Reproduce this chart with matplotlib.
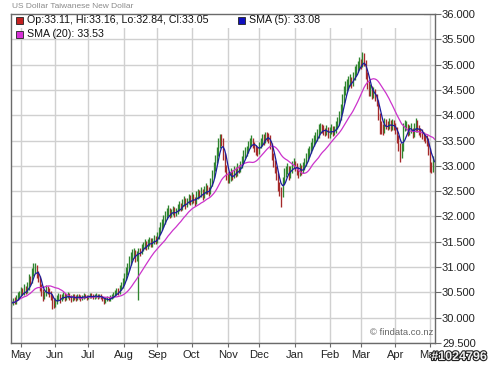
import matplotlib
matplotlib.use("Agg")
import matplotlib.pyplot as plt
import matplotlib.patheffects as pe
from matplotlib.patches import Rectangle
import numpy as np
import pandas as pd

plt.rcParams['font.family'] = ['Liberation Sans', 'DejaVu Sans']

title = "US Dollar Taiwanese New Dollar"
start_date = "2008-04-23"
n_days = 271

opens = [
30.25,30.28,30.33,30.30,30.38,30.42,30.45,30.52,30.48,30.55,
30.50,30.58,30.75,30.70,30.88,30.95,31.02,30.85,30.78,30.60,
30.52,30.40,30.45,30.58,30.52,30.48,30.40,30.30,30.25,30.32,
30.38,30.42,30.36,30.40,30.44,30.38,30.42,30.45,30.40,30.36,
30.42,30.40,30.38,30.43,30.41,30.37,30.40,30.44,30.42,30.39,
30.41,30.45,30.43,30.40,30.42,30.44,30.41,30.43,30.40,30.36,
30.33,30.35,30.38,30.36,30.40,30.42,30.45,30.48,30.52,30.50,
30.58,30.62,30.70,30.78,30.90,30.98,31.10,31.20,31.25,31.30,
31.18,31.25,31.32,31.30,31.38,31.42,31.45,31.40,31.48,31.52,
31.45,31.50,31.55,31.52,31.62,31.70,31.80,31.85,31.90,32.00,
32.05,32.10,32.02,32.08,32.12,32.05,32.10,32.15,32.20,32.18,
32.25,32.30,32.22,32.28,32.35,32.30,32.38,32.32,32.28,32.40,
32.45,32.42,32.48,32.40,32.50,32.55,32.52,32.48,32.65,32.80,
32.95,33.10,33.25,33.40,33.55,33.50,33.20,32.95,32.80,32.72,
32.75,32.85,32.80,32.90,32.85,32.95,32.92,33.00,33.10,33.20,
33.28,33.30,33.40,33.45,33.50,33.42,33.35,33.30,33.28,33.40,
33.45,33.55,33.50,33.60,33.58,33.55,33.40,33.20,33.05,32.95,
32.80,32.60,32.50,32.45,32.70,32.85,32.90,32.95,32.80,32.90,
33.00,33.05,32.98,32.90,32.85,32.95,32.90,32.98,33.05,33.15,
33.25,33.30,33.38,33.45,33.50,33.55,33.60,33.70,33.75,33.72,
33.68,33.65,33.70,33.62,33.68,33.72,33.65,33.70,33.78,33.85,
33.95,34.10,34.30,34.45,34.55,34.60,34.65,34.70,34.62,34.75,
34.85,34.90,34.95,35.05,35.00,35.10,35.05,34.80,34.60,34.45,
34.50,34.40,34.45,34.35,34.25,34.00,33.80,33.75,33.70,33.85,
33.80,33.78,33.85,33.75,33.82,33.78,33.70,33.55,33.40,33.25,
33.35,33.75,33.78,33.78,33.65,33.70,33.75,33.63,33.73,33.83,
33.75,33.67,33.65,33.60,33.57,33.53,33.50,33.30,33.00,32.95,
33.11]

highs = [
30.34,30.38,30.40,30.44,30.50,30.52,30.60,30.58,30.66,30.62,
30.70,30.86,30.82,30.98,31.08,31.08,31.05,30.92,30.82,30.66,
30.56,30.52,30.64,30.62,30.58,30.52,30.44,30.36,30.38,30.44,
30.48,30.46,30.46,30.50,30.48,30.47,30.50,30.49,30.44,30.46,
30.46,30.44,30.47,30.46,30.44,30.45,30.48,30.47,30.45,30.45,
30.49,30.48,30.46,30.46,30.48,30.47,30.47,30.46,30.43,30.40,
30.40,30.42,30.41,30.45,30.47,30.51,30.55,30.59,30.58,30.65,
30.70,30.78,30.88,31.00,31.08,31.22,31.30,31.36,31.38,31.34,
31.32,31.37,31.38,31.45,31.50,31.55,31.52,31.56,31.60,31.58,
31.57,31.63,31.62,31.70,31.80,31.90,31.95,32.02,32.10,32.16,
32.22,32.16,32.15,32.20,32.18,32.16,32.24,32.30,32.26,32.35,
32.40,32.36,32.36,32.45,32.42,32.48,32.44,32.38,32.50,32.55,
32.52,32.58,32.54,32.60,32.66,32.62,32.58,32.75,32.92,33.08,
33.22,33.38,33.55,33.63,33.63,33.55,33.25,33.02,32.88,32.85,
32.95,32.92,33.00,32.98,33.05,33.02,33.10,33.20,33.32,33.38,
33.40,33.50,33.55,33.60,33.56,33.48,33.42,33.38,33.48,33.55,
33.63,33.62,33.66,33.66,33.64,33.60,33.45,33.26,33.12,33.00,
32.85,32.68,32.58,32.78,32.95,33.00,33.06,33.00,33.00,33.10,
33.15,33.10,33.05,32.98,33.05,33.02,33.08,33.15,33.25,33.36,
33.40,33.48,33.55,33.60,33.66,33.72,33.82,33.85,33.82,33.80,
33.75,33.80,33.76,33.76,33.82,33.78,33.78,33.88,33.96,34.08,
34.22,34.42,34.58,34.68,34.72,34.78,34.82,34.76,34.86,34.98,
35.02,35.08,35.15,35.12,35.25,35.22,35.10,34.86,34.68,34.62,
34.58,34.55,34.52,34.42,34.30,34.05,33.88,33.82,33.95,33.92,
33.88,33.95,33.90,33.92,33.90,33.85,33.76,33.60,33.45,33.45,
33.85,33.90,33.88,33.82,33.80,33.85,33.75,33.85,33.95,33.90,
33.80,33.75,33.73,33.67,33.63,33.60,33.55,33.35,33.08,33.20,
33.16]

lows = [
30.22,30.25,30.27,30.28,30.35,30.38,30.42,30.44,30.45,30.46,
30.48,30.55,30.64,30.68,30.82,30.88,30.78,30.70,30.52,30.42,
30.33,30.36,30.42,30.46,30.40,30.34,30.17,30.20,30.22,30.28,
30.34,30.30,30.32,30.36,30.33,30.34,30.38,30.35,30.31,30.33,
30.35,30.33,30.35,30.36,30.32,30.34,30.37,30.38,30.35,30.36,
30.38,30.39,30.36,30.37,30.39,30.37,30.38,30.36,30.32,30.28,
30.30,30.32,30.32,30.33,30.37,30.39,30.42,30.45,30.45,30.47,
30.54,30.58,30.66,30.74,30.85,30.94,31.05,31.14,31.18,31.10,
31.12,30.35,31.22,31.26,31.32,31.36,31.34,31.36,31.42,31.40,
31.40,31.45,31.46,31.48,31.56,31.65,31.74,31.80,31.85,31.94,
32.00,31.96,31.98,32.03,31.98,32.00,32.05,32.10,32.10,32.12,
32.20,32.15,32.18,32.24,32.22,32.25,32.26,32.20,32.24,32.35,
32.36,32.38,32.32,32.36,32.45,32.44,32.40,32.45,32.60,32.75,
32.90,33.05,33.20,33.35,33.40,33.12,32.88,32.72,32.66,32.66,
32.70,32.72,32.75,32.78,32.80,32.85,32.88,32.95,33.05,33.15,
33.20,33.25,33.35,33.40,33.35,33.28,33.22,33.20,33.24,33.35,
33.40,33.42,33.45,33.50,33.46,33.34,33.12,32.98,32.86,32.72,
32.50,32.40,32.19,32.38,32.65,32.78,32.84,32.72,32.75,32.85,
32.95,32.90,32.82,32.76,32.80,32.82,32.85,32.92,33.00,33.10,
33.18,33.25,33.32,33.40,33.45,33.50,33.55,33.65,33.64,33.60,
33.58,33.60,33.55,33.56,33.62,33.58,33.60,33.65,33.72,33.80,
33.90,34.05,34.25,34.40,34.48,34.52,34.58,34.54,34.58,34.70,
34.78,34.85,34.90,34.92,34.95,34.98,34.72,34.52,34.38,34.38,
34.32,34.34,34.28,34.18,33.90,33.62,33.62,33.60,33.65,33.72,
33.70,33.72,33.68,33.70,33.70,33.62,33.45,33.30,33.08,33.15,
33.30,33.68,33.70,33.58,33.60,33.65,33.55,33.57,33.67,33.67,
33.60,33.57,33.53,33.50,33.45,33.40,33.22,32.88,32.86,32.88,
32.84]

closes = [
30.28,30.33,30.30,30.38,30.42,30.45,30.52,30.48,30.55,30.50,
30.58,30.75,30.70,30.88,30.95,31.02,30.85,30.78,30.60,30.52,
30.40,30.45,30.58,30.52,30.48,30.40,30.30,30.25,30.32,30.38,
30.42,30.36,30.40,30.44,30.38,30.42,30.45,30.40,30.36,30.42,
30.40,30.38,30.43,30.41,30.37,30.40,30.44,30.42,30.39,30.41,
30.45,30.43,30.40,30.42,30.44,30.41,30.43,30.40,30.36,30.33,
30.35,30.38,30.36,30.40,30.42,30.45,30.48,30.52,30.50,30.58,
30.62,30.70,30.78,30.90,30.98,31.10,31.20,31.25,31.30,31.18,
31.25,31.32,31.30,31.38,31.42,31.45,31.40,31.48,31.52,31.45,
31.50,31.55,31.52,31.62,31.70,31.80,31.85,31.90,32.00,32.05,
32.10,32.02,32.08,32.12,32.05,32.10,32.15,32.20,32.18,32.25,
32.30,32.22,32.28,32.35,32.30,32.38,32.32,32.28,32.40,32.45,
32.42,32.48,32.40,32.50,32.55,32.52,32.48,32.65,32.80,32.95,
33.10,33.25,33.40,33.55,33.50,33.20,32.95,32.80,32.72,32.75,
32.85,32.80,32.90,32.85,32.95,32.92,33.00,33.10,33.20,33.28,
33.30,33.40,33.45,33.50,33.42,33.35,33.30,33.28,33.40,33.45,
33.55,33.50,33.60,33.58,33.55,33.40,33.20,33.05,32.95,32.80,
32.60,32.50,32.45,32.70,32.85,32.90,32.95,32.80,32.90,33.00,
33.05,32.98,32.90,32.85,32.95,32.90,32.98,33.05,33.15,33.25,
33.30,33.38,33.45,33.50,33.55,33.60,33.70,33.75,33.72,33.68,
33.65,33.70,33.62,33.68,33.72,33.65,33.70,33.78,33.85,33.95,
34.10,34.30,34.45,34.55,34.60,34.65,34.70,34.62,34.75,34.85,
34.90,34.95,35.05,35.00,35.10,35.05,34.80,34.60,34.45,34.50,
34.40,34.45,34.35,34.25,34.00,33.80,33.75,33.70,33.85,33.80,
33.78,33.85,33.75,33.82,33.78,33.70,33.55,33.40,33.25,33.35,
33.75,33.78,33.78,33.65,33.70,33.75,33.63,33.73,33.83,33.75,
33.67,33.65,33.60,33.57,33.53,33.50,33.30,33.00,32.95,33.11,
33.05]

y_ticks = [29.5, 30.0, 30.5, 31.0, 31.5, 32.0, 32.5, 33.0, 33.5, 34.0, 34.5, 35.0, 35.5, 36.0]
month_labels = ["May", "Jun", "Jul", "Aug", "Sep", "Oct", "Nov", "Dec",
                "Jan", "Feb", "Mar", "Apr", "May"]

dates = pd.bdate_range(start_date, periods=n_days)
df = pd.DataFrame({"o": opens, "h": highs, "l": lows, "c": closes}, index=dates)
sma5 = df["c"].rolling(5, min_periods=1).mean()
sma20 = df["c"].rolling(20, min_periods=1).mean()
x = np.arange(n_days)

# month boundaries (first trading day of each month, after the first partial month)
month_idx = [i for i in range(1, n_days) if dates[i].month != dates[i - 1].month]

W, H = 492, 367
fig = plt.figure(figsize=(W / 100, H / 100), dpi=100)
L, R, T, B = 11, 435, 14, 343
ax = fig.add_axes([L / W, 1 - B / H, (R - L) / W, (B - T) / H])

ax.set_xlim(-0.3, n_days - 0.7)
ax.set_ylim(29.5, 36.0)

grid_c = "#d0d0d0"
for yv in y_ticks:
    ax.axhline(yv, color=grid_c, lw=1.0, zorder=0)
for mi in month_idx:
    ax.axvline(mi, color=grid_c, lw=1.0, zorder=0)

up = df["c"].values >= df["o"].values
cols = np.where(up, "#2f852f", "#a52a2a")
ax.vlines(x, df["l"].values, df["h"].values, colors=cols, lw=0.95, zorder=2)

ax.plot(x, sma20.values, color="#cc33cc", lw=0.9, zorder=3)
ax.plot(x, sma5.values, color="#1c1c9c", lw=0.9, zorder=4)

# white legend band at top
ax.add_patch(Rectangle((0, 0.958), 0.975, 0.042, transform=ax.transAxes,
                       facecolor="white", edgecolor="none", zorder=5))

for s in ax.spines.values():
    s.set_color("#6a6a6a")
    s.set_linewidth(1.0)
    s.set_zorder(6)

ax.yaxis.tick_right()
ax.set_yticks(y_ticks)
ax.set_yticklabels([f"{v:.3f}" for v in y_ticks])
ax.tick_params(axis="y", direction="out", length=4, width=0.8, color="#6a6a6a",
               labelsize=8, labelcolor="#222222", pad=1)
ax.set_xticks(month_idx)
ax.set_xticklabels(month_labels)
ax.tick_params(axis="x", direction="out", length=3, width=0.8, color="#6a6a6a",
               labelsize=8, labelcolor="#222222", pad=2)

fig.text(12 / W, 1 - 7 / H, title, fontsize=6, color="#8a8a8a", va="center", ha="left")

def legend_item(px, py, color, label):
    fig.patches.append(Rectangle(((px) / W, 1 - (py + 4) / H), 7 / W, 7 / H,
                                 transform=fig.transFigure, facecolor=color,
                                 edgecolor="#222222", lw=0.6, zorder=10))
    fig.text((px + 11) / W, 1 - py / H, label, fontsize=7.7, color="#111111",
             va="center", ha="left", zorder=10)

legend_item(16, 20, "#c42020",
            f"Op:{opens[-1]:.2f}, Hi:{highs[-1]:.2f}, Lo:{lows[-1]:.2f}, Cl:{closes[-1]:.2f}")
legend_item(238, 20, "#1010c0", f"SMA (5): {sma5.values[-1]:.2f}")
legend_item(16, 34, "#d630d6", f"SMA (20): {sma20.values[-1]:.2f}")

ax.text(0.995, 0.018, "\u00a9 findata.co.nz", transform=ax.transAxes, fontsize=6.8,
        color="#666666", ha="right", va="bottom", zorder=7)

fig.text(487 / W, 1 - 357 / H, "#1024796", fontsize=9, fontweight="bold",
         color="#f0f0f0", ha="right", va="center",
         path_effects=[pe.withStroke(linewidth=1.6, foreground="#222222")])

fig.savefig("out.png", dpi=100, facecolor="white")
